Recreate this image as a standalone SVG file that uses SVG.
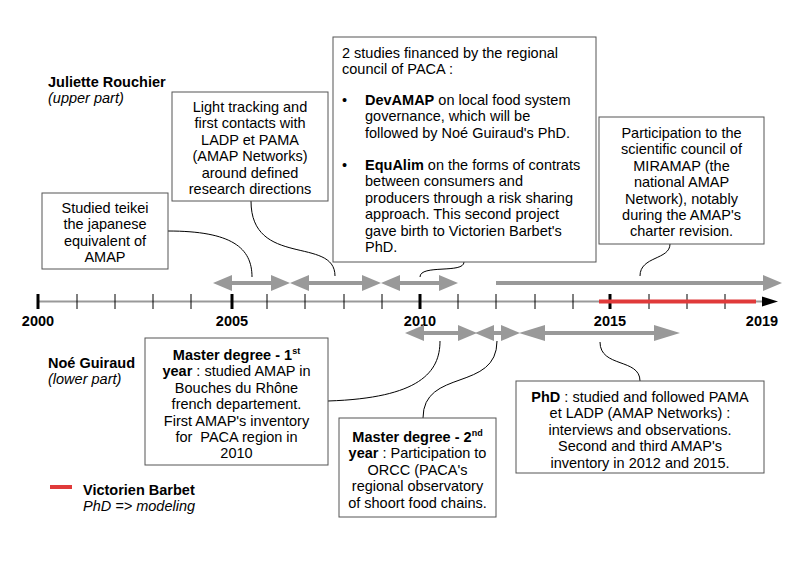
<svg xmlns="http://www.w3.org/2000/svg" width="801" height="565" viewBox="0 0 801 565">
<defs>
<style>
text{font-family:"Liberation Sans",Arial,sans-serif;font-size:14.5px;fill:#000}
.c{text-anchor:middle}
.b{font-weight:bold}
.i{font-style:italic}
.sup{font-size:9px;font-weight:bold}
.box{fill:#fff;stroke:#555;stroke-width:1}
.conn{fill:none;stroke:#000;stroke-width:1}
.arr{stroke:#999;stroke-width:4;fill:none}
.tick{stroke:#000;stroke-width:1}
.major{stroke:#000;stroke-width:3}
</style>
<marker id="h" markerUnits="userSpaceOnUse" markerWidth="19" markerHeight="16" viewBox="0 0 19 16" refX="0" refY="8" orient="auto-start-reverse"><path d="M0,0 L19,8 L0,16 z" fill="#999"/></marker>
<marker id="hl" markerUnits="userSpaceOnUse" markerWidth="26" markerHeight="16" viewBox="0 0 26 16" refX="0" refY="8" orient="auto-start-reverse"><path d="M0,0 L26,8 L0,16 z" fill="#999"/></marker>
</defs>
<rect width="801" height="565" fill="#fff"/>

<g id="timeline">
<line x1="38" y1="301.5" x2="763" y2="301.5" stroke="#999" stroke-width="2"/>
<polygon points="762,296.5 778,301.5 762,306.5" fill="#000"/>
<line class="major" x1="38" y1="294" x2="38" y2="309"/>
<line class="tick" x1="77" y1="294" x2="77" y2="309"/>
<line class="tick" x1="115" y1="294" x2="115" y2="309"/>
<line class="tick" x1="153" y1="294" x2="153" y2="309"/>
<line class="tick" x1="191" y1="294" x2="191" y2="309"/>
<line class="major" x1="232" y1="294" x2="232" y2="309"/>
<line class="tick" x1="267" y1="294" x2="267" y2="309"/>
<line class="tick" x1="305" y1="294" x2="305" y2="309"/>
<line class="tick" x1="344" y1="294" x2="344" y2="309"/>
<line class="tick" x1="382" y1="294" x2="382" y2="309"/>
<line class="major" x1="420" y1="294" x2="420" y2="309"/>
<line class="tick" x1="458" y1="294" x2="458" y2="309"/>
<line class="tick" x1="496" y1="294" x2="496" y2="309"/>
<line class="tick" x1="535" y1="294" x2="535" y2="309"/>
<line class="tick" x1="573" y1="294" x2="573" y2="309"/>
<line class="major" x1="610" y1="294" x2="610" y2="309"/>
<line class="tick" x1="649" y1="294" x2="649" y2="309"/>
<line class="tick" x1="687" y1="294" x2="687" y2="309"/>
<line class="tick" x1="725" y1="294" x2="725" y2="309"/>
<line x1="599" y1="301.5" x2="756" y2="301.5" stroke="#e03a3a" stroke-width="4"/>
<text class="b c" x="38" y="326">2000</text>
<text class="b c" x="232" y="326">2005</text>
<text class="b c" x="420" y="326">2010</text>
<text class="b c" x="610" y="326">2015</text>
<text class="b c" x="762" y="326">2019</text>
</g>

<g id="periods">
<line class="arr" x1="232" y1="283" x2="271" y2="283" marker-start="url(#h)" marker-end="url(#h)"/>
<line class="arr" x1="309" y1="283" x2="362" y2="283" marker-start="url(#h)" marker-end="url(#h)"/>
<line class="arr" x1="400" y1="283" x2="439" y2="283" marker-start="url(#h)" marker-end="url(#h)"/>
<line class="arr" x1="496" y1="283" x2="763" y2="283" marker-end="url(#h)"/>
<line class="arr" x1="424" y1="333" x2="458" y2="333" marker-start="url(#h)" marker-end="url(#h)"/>
<line class="arr" x1="494" y1="333" x2="501" y2="333" marker-start="url(#h)" marker-end="url(#h)"/>
<line class="arr" x1="545" y1="333" x2="654" y2="333" marker-start="url(#hl)" marker-end="url(#hl)"/>
</g>

<g id="connectors">
<path class="conn" d="M168,231 C232,231 252,248 252,277"/>
<path class="conn" d="M251,201 C251,268 335,236 335,276"/>
<path class="conn" d="M464,262 C464,274 420,264 420,277"/>
<path class="conn" d="M670,244 C670,260 640,256 640,276"/>
<path class="conn" d="M328,401 C420,398 440,372 440,341"/>
<path class="conn" d="M423,418 C423,368 497,392 497,341"/>
<path class="conn" d="M640,381 C640,358 600,368 600,342"/>
</g>

<g id="legend-juliette">
<text class="b" x="48" y="87">Juliette Rouchier</text>
<text class="i" x="48" y="103">(upper part)</text>
</g>
<g id="legend-noe">
<text class="b" x="48" y="368">Noé Guiraud</text>
<text class="i" x="48" y="384">(lower part)</text>
</g>
<g id="legend-victorien">
<line x1="50" y1="487" x2="72" y2="487" stroke="#e03a3a" stroke-width="4"/>
<text class="b" x="83" y="495">Victorien Barbet</text>
<text class="i" x="83" y="511">PhD =&gt; modeling</text>
</g>

<g id="teikei">
<rect class="box" x="42" y="193" width="126" height="76"/>
<text class="c" x="105" y="213">Studied teikei</text>
<text class="c" x="105" y="229.4">the japanese</text>
<text class="c" x="105" y="245.8">equivalent of</text>
<text class="c" x="105" y="262.2">AMAP</text>
</g>

<g id="light-tracking">
<rect class="box" x="172" y="92" width="156" height="109"/>
<text class="c" x="250" y="112">Light tracking and</text>
<text class="c" x="250" y="128.4">first contacts with</text>
<text class="c" x="250" y="144.8">LADP et PAMA</text>
<text class="c" x="250" y="161.2">(AMAP Networks)</text>
<text class="c" x="250" y="177.6">around defined</text>
<text class="c" x="250" y="194">research directions</text>
</g>

<g id="studies">
<rect class="box" x="333" y="37" width="263" height="225"/>
<text x="342" y="58">2 studies financed by the regional</text>
<text x="342" y="74.4">council of PACA :</text>
<text x="342" y="105">•</text>
<text x="365" y="105"><tspan class="b">DevAMAP</tspan> on local food system</text>
<text x="365" y="121.4">governance, which will be</text>
<text x="365" y="137.8">followed by Noé Guiraud's PhD.</text>
<text x="342" y="170">•</text>
<text x="365" y="170"><tspan class="b">EquAlim</tspan> on the forms of contrats</text>
<text x="365" y="186.4">between consumers and</text>
<text x="365" y="202.8">producers through a risk sharing</text>
<text x="365" y="219.2">approach. This second project</text>
<text x="365" y="235.6">gave birth to Victorien Barbet's</text>
<text x="365" y="252">PhD.</text>
</g>

<g id="miramap">
<rect class="box" x="599" y="117" width="165" height="127"/>
<text class="c" x="681.5" y="138">Participation to the</text>
<text class="c" x="681.5" y="154.4">scientific council of</text>
<text class="c" x="681.5" y="170.8">MIRAMAP (the</text>
<text class="c" x="681.5" y="187.2">national AMAP</text>
<text class="c" x="681.5" y="203.6">Network), notably</text>
<text class="c" x="681.5" y="220">during the AMAP's</text>
<text class="c" x="681.5" y="236.4">charter revision.</text>
</g>

<g id="master1">
<rect class="box" x="145" y="338" width="183" height="127"/>
<text class="c" x="236.5" y="360"><tspan class="b">Master degree - 1</tspan><tspan class="sup" dy="-6">st</tspan></text>
<text class="c" x="236.5" y="376.4"><tspan class="b">year</tspan> : studied AMAP in</text>
<text class="c" x="236.5" y="392.8">Bouches du Rhône</text>
<text class="c" x="236.5" y="409.2">french departement.</text>
<text class="c" x="236.5" y="425.6">First AMAP's inventory</text>
<text class="c" x="236.5" y="442" xml:space="preserve">for  PACA region in</text>
<text class="c" x="236.5" y="458.4">2010</text>
</g>

<g id="master2">
<rect class="box" x="339" y="418" width="157" height="99"/>
<text class="c" x="417.5" y="442"><tspan class="b">Master degree - 2</tspan><tspan class="sup" dy="-6">nd</tspan></text>
<text class="c" x="417.5" y="458.4"><tspan class="b">year</tspan> : Participation to</text>
<text class="c" x="417.5" y="474.8">ORCC (PACA's</text>
<text class="c" x="417.5" y="491.2">regional observatory</text>
<text class="c" x="417.5" y="507.6">of shoort food chains.</text>
</g>

<g id="phd">
<rect class="box" x="516" y="381" width="248" height="92"/>
<text class="c" x="640" y="402"><tspan class="b">PhD</tspan> : studied and followed PAMA</text>
<text class="c" x="640" y="418.4">et LADP (AMAP Networks) :</text>
<text class="c" x="640" y="434.8">interviews and observations.</text>
<text class="c" x="640" y="451.2">Second and third AMAP's</text>
<text class="c" x="640" y="467.6">inventory in 2012 and 2015.</text>
</g>
</svg>
